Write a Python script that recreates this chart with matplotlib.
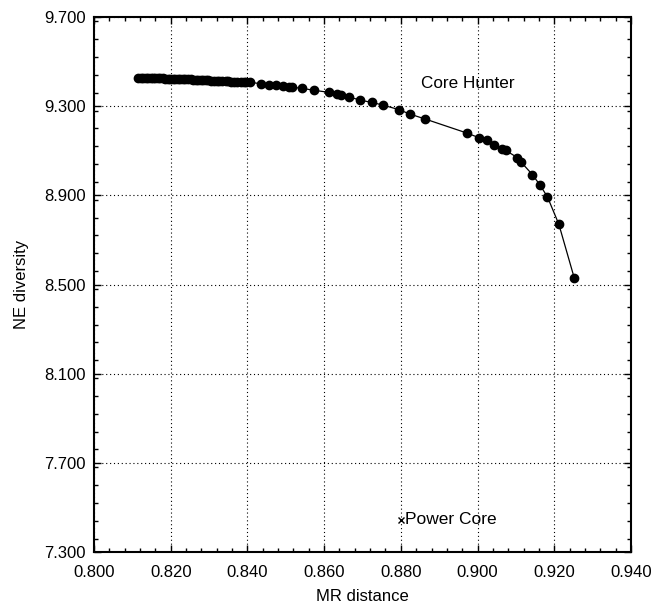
import matplotlib
matplotlib.use("Agg")
import matplotlib.pyplot as plt
from matplotlib.ticker import MultipleLocator, FormatStrFormatter

plt.rcParams['font.family'] = ['Liberation Sans', 'DejaVu Sans']

# Core Hunter front (MR distance, NE diversity)
mr_distance = [
    0.8115, 0.8122, 0.8128, 0.8135, 0.8141, 0.8148, 0.8154, 0.8160, 0.8167, 0.8173,
    0.8180, 0.8186, 0.8193, 0.8199, 0.8206, 0.8212, 0.8219, 0.8225, 0.8232, 0.8238,
    0.8245, 0.8252, 0.8258, 0.8265, 0.8271, 0.8278, 0.8285, 0.8291, 0.8298, 0.8305,
    0.8312, 0.8320, 0.8327, 0.8335, 0.8343, 0.8350, 0.8358, 0.8366, 0.8374, 0.8382,
    0.8390, 0.8396, 0.8407, 0.8435, 0.8455, 0.8474, 0.8494, 0.8509, 0.8515, 0.8543,
    0.8574, 0.8613, 0.8634, 0.8645, 0.8664, 0.8694, 0.8724, 0.8753, 0.8794, 0.8823,
    0.8864, 0.8973, 0.9003, 0.9024, 0.9043, 0.9063, 0.9073, 0.9104, 0.9113, 0.9143,
    0.9162, 0.9182, 0.9212, 0.9252,
]
ne_diversity = [
    9.428, 9.428, 9.428, 9.427, 9.427, 9.427, 9.426, 9.426, 9.425, 9.425,
    9.425, 9.424, 9.424, 9.424, 9.423, 9.423, 9.422, 9.422, 9.421, 9.421,
    9.420, 9.420, 9.419, 9.419, 9.418, 9.418, 9.417, 9.416, 9.416, 9.415,
    9.414, 9.414, 9.413, 9.412, 9.411, 9.411, 9.410, 9.409, 9.409, 9.408,
    9.407, 9.409, 9.408, 9.400, 9.396, 9.394, 9.391, 9.387, 9.385, 9.380,
    9.371, 9.362, 9.354, 9.350, 9.342, 9.327, 9.317, 9.305, 9.285, 9.265,
    9.242, 9.179, 9.159, 9.146, 9.126, 9.110, 9.102, 9.069, 9.050, 8.993,
    8.948, 8.894, 8.770, 8.530,
]

power_core_mr = [0.8800]
power_core_ne = [7.444]

x_ticks = [0.800, 0.820, 0.840, 0.860, 0.880, 0.900, 0.920, 0.940]
y_ticks = [7.300, 7.700, 8.100, 8.500, 8.900, 9.300, 9.700]

fig = plt.figure(figsize=(6.54, 6.07), dpi=100)
ax = fig.add_axes([0.1437, 0.0906, 0.8211, 0.8814])

ax.plot(mr_distance, ne_diversity, color='black', linewidth=0.9,
        marker='o', markersize=6.0, markerfacecolor='black', markeredgecolor='black')
ax.plot(power_core_mr, power_core_ne, linestyle='none', marker='x',
        markersize=5, color='black', markeredgewidth=1.0)

ax.text(0.8852, 9.403, 'Core Hunter', fontsize=12.3, va='center', ha='left')
ax.text(0.8812, 7.444, 'Power Core', fontsize=12.5, va='center', ha='left')

ax.set_xlim(0.800, 0.940)
ax.set_ylim(7.300, 9.700)
ax.set_xticks(x_ticks)
ax.set_yticks(y_ticks)
ax.xaxis.set_major_formatter(FormatStrFormatter('%.3f'))
ax.yaxis.set_major_formatter(FormatStrFormatter('%.3f'))
ax.xaxis.set_minor_locator(MultipleLocator(0.004))
ax.yaxis.set_minor_locator(MultipleLocator(0.08))

ax.grid(True, which='major', linestyle=(0, (1, 2.5)), color='black', linewidth=0.8)
ax.tick_params(which='both', direction='in', top=True, right=True, labelsize=12)
ax.tick_params(which='major', length=5, width=1.0)
ax.tick_params(which='minor', length=3, width=1.0)
ax.tick_params(axis='x', which='major', pad=9.0)
ax.tick_params(axis='y', which='major', pad=5.7)
for s in ax.spines.values():
    s.set_linewidth(1.5)

ax.set_xlabel('MR distance', fontsize=12, labelpad=7.0)
ax.set_ylabel('NE diversity', fontsize=12, labelpad=11.0)

fig.savefig('out.png', dpi=100)
